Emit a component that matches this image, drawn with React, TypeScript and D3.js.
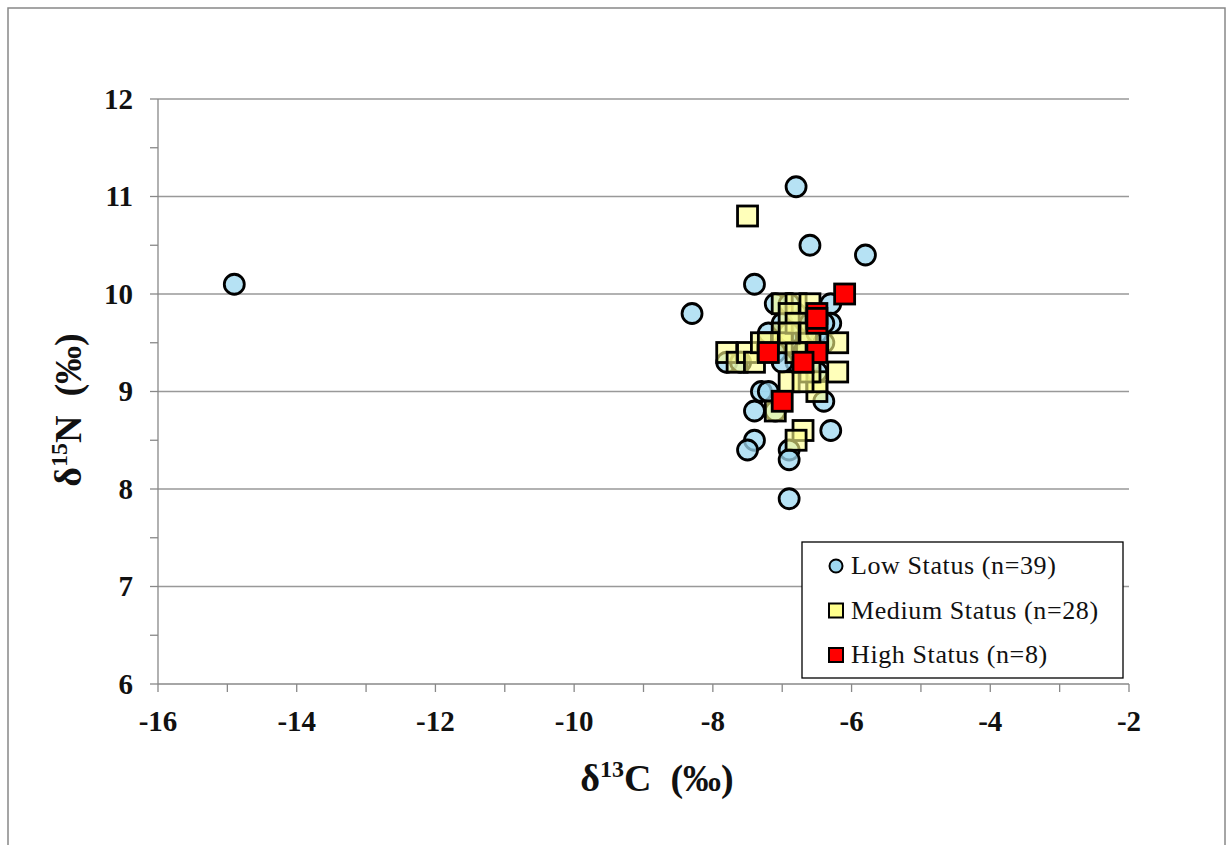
import React from "react";
import * as d3 from "d3";

const lowX = [-14.9, -8.3, -7.4, -6.8, -6.6, -5.8, -7.1, -6.9, -6.3, -6.3, -7.8, -7.3, -7.2, -7.4, -6.4, -6.3, -7.4, -7.5, -6.9, -6.9, -6.9, -7.2, -7.0, -6.8, -6.7, -6.6, -6.5, -6.4, -6.9, -7.1, -6.8, -6.6, -6.5, -7.0, -6.7, -6.9, -6.4, -7.6, -7.1];
const lowY = [10.1, 9.8, 10.1, 11.1, 10.5, 10.4, 9.9, 9.9, 9.9, 9.7, 9.3, 9.0, 9.0, 8.8, 8.9, 8.6, 8.5, 8.4, 8.4, 8.3, 7.9, 9.6, 9.7, 9.8, 9.6, 9.7, 9.6, 9.5, 9.5, 9.4, 9.3, 9.3, 9.2, 9.3, 9.4, 9.6, 9.7, 9.3, 8.8];

const medX = [-7.5, -7.0, -6.8, -6.6, -7.8, -7.65, -7.5, -7.4, -7.3, -6.2, -6.2, -6.9, -6.5, -6.7, -6.8, -7.0, -6.65, -6.5, -7.1, -6.9, -7.0, -6.8, -6.6, -6.8, -6.6, -7.2, -6.9, -6.7];
const medY = [10.8, 9.9, 9.9, 9.9, 9.4, 9.3, 9.4, 9.3, 9.5, 9.5, 9.2, 9.1, 9.0, 8.6, 8.5, 9.6, 9.5, 9.1, 8.8, 9.8, 9.5, 9.7, 9.6, 9.4, 9.2, 9.5, 9.6, 9.1];

const highX = [-6.1, -6.5, -6.5, -7.2, -6.5, -6.7, -7.0, -6.5];
const highY = [10.0, 9.8, 9.7, 9.4, 9.4, 9.3, 8.9, 9.75];

const xTicks = [-16, -14, -12, -10, -8, -6, -4, -2];
const yTicks = [6, 7, 8, 9, 10, 11, 12];
const legendLabels = ["Low Status (n=39)", "Medium Status (n=28)", "High Status (n=8)"];

const W = 1227, H = 845;
const L = 158, R = 1129, T = 99, B = 684;
const FONT = "Liberation Serif, Times New Roman, DejaVu Serif, serif";

export default function App() {
  const x = d3.scaleLinear().domain([-16, -2]).range([L, R]);
  const y = d3.scaleLinear().domain([6, 12]).range([B, T]);
  const xMinor = d3.range(-16, -1.99, 1);
  const yMinor = d3.range(6, 12.01, 0.5);
  const sq = 20;
  const low = lowX.map((v, i) => [v, lowY[i]]);
  const med = medX.map((v, i) => [v, medY[i]]);
  const high = highX.map((v, i) => [v, highY[i]]);
  const lx = 836, ly0 = 566, ldy = 44.5;
  return (
    <svg width={W} height={H} style={{ position: "absolute", left: 0, top: 0, background: "#fff", fontFamily: FONT }}>
      <rect x={8} y={8} width={1217} height={845} fill="#fff" stroke="#888" strokeWidth={1.5} />
      {yTicks.filter(t => t > 6).map(t => (
        <line key={"g" + t} x1={L} x2={R} y1={y(t)} y2={y(t)} stroke="#999" strokeWidth={1.3} />
      ))}
      <line x1={L} x2={L} y1={T} y2={B} stroke="#888" strokeWidth={1.3} />
      <line x1={L} x2={R} y1={B} y2={B} stroke="#888" strokeWidth={1.3} />
      {yMinor.map(t => (
        <line key={"yt" + t} x1={L - 8} x2={L} y1={y(t)} y2={y(t)} stroke="#888" strokeWidth={1.3} />
      ))}
      {xMinor.map(t => (
        <line key={"xt" + t} x1={x(t)} x2={x(t)} y1={B} y2={B + 8} stroke="#888" strokeWidth={1.3} />
      ))}
      {yTicks.map(t => (
        <text key={"yl" + t} x={133} y={y(t)} dy="0.34em" textAnchor="end" fontWeight="bold" fontSize={29} fill="#111">{t}</text>
      ))}
      {xTicks.map(t => (
        <text key={"xl" + t} x={x(t)} y={721} dy="0.34em" textAnchor="middle" fontWeight="bold" fontSize={29} fill="#111">{t}</text>
      ))}
      <text x={657} y={791} textAnchor="middle" fontWeight="bold" fontSize={38} fill="#111" style={{ whiteSpace: "pre" }}>
        δ<tspan fontSize={24} dy={-14}>13</tspan><tspan dy={14}>{"C  (‰)"}</tspan>
      </text>
      <text transform="translate(81,410) rotate(-90)" textAnchor="middle" fontWeight="bold" fontSize={38} fill="#111" style={{ whiteSpace: "pre" }}>
        δ<tspan fontSize={24} dy={-14}>15</tspan><tspan dy={14}>{"N  (‰)"}</tspan>
      </text>
      <g>
        {low.map((d, i) => (
          <circle key={"l" + i} cx={x(d[0])} cy={y(d[1])} r={10} fill="#9ed8f0" fillOpacity={0.75} stroke="#000" strokeWidth={2.8} />
        ))}
        {med.map((d, i) => (
          <rect key={"m" + i} x={x(d[0]) - sq / 2} y={y(d[1]) - sq / 2} width={sq} height={sq} fill="#ffff8c" fillOpacity={0.6} stroke="#000" strokeWidth={2.8} />
        ))}
        {high.map((d, i) => (
          <rect key={"h" + i} x={x(d[0]) - sq / 2} y={y(d[1]) - sq / 2} width={sq} height={sq} fill="#ff0000" stroke="#000" strokeWidth={2.8} />
        ))}
      </g>
      <rect x={802} y={542} width={321} height={136} fill="#fff" stroke="#000" strokeWidth={1.3} />
      <circle cx={lx} cy={ly0} r={6.5} fill="#9ed8f0" stroke="#000" strokeWidth={2} />
      <rect x={lx - 7} y={ly0 + ldy - 7} width={14} height={14} fill="#ffff8c" stroke="#000" strokeWidth={2} />
      <rect x={lx - 7} y={ly0 + 2 * ldy - 7} width={14} height={14} fill="#ff0000" stroke="#000" strokeWidth={2} />
      {legendLabels.map((s, i) => (
        <text key={s} x={851} y={ly0 + 8 + i * ldy} fontSize={26} letterSpacing={0.6} fill="#111">{s}</text>
      ))}
    </svg>
  );
}
